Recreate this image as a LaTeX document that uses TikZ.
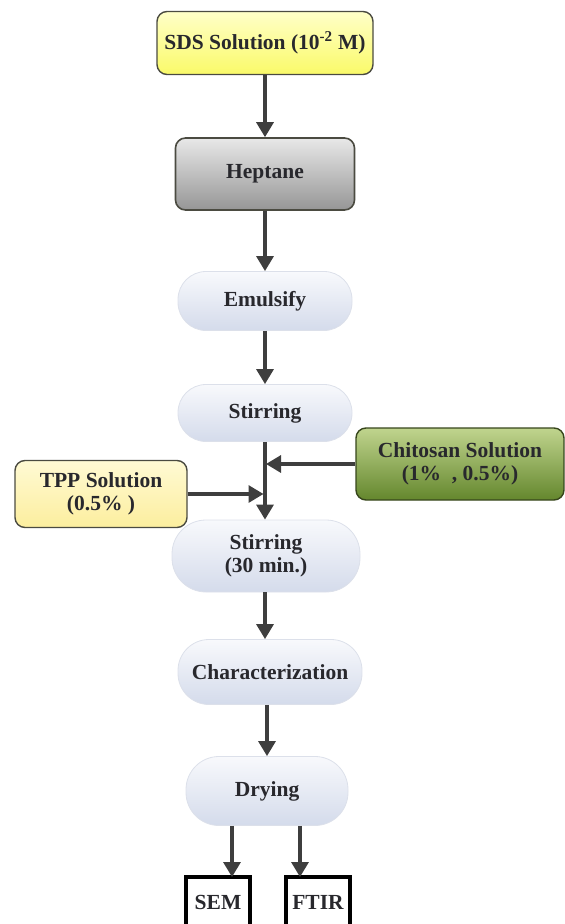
\documentclass[tikz,border=0pt]{standalone}
\usepackage{fontspec}
\setmainfont{Liberation Serif}
\usetikzlibrary{arrows.meta}

\definecolor{inkgray}{RGB}{40,40,45}
\definecolor{linegray}{RGB}{62,62,62}
\definecolor{edgegray}{RGB}{75,75,65}

\tikzset{
  lbl/.style={font=\fontsize{21.5}{23}\selectfont\bfseries, text=inkgray, align=center, inner sep=1pt},
  boxbase/.style={lbl, draw=edgegray, line width=1.4pt, rounded corners=10pt},
  sdsbox/.style={boxbase, top color={rgb,255:red,255;green,255;blue,200}, bottom color={rgb,255:red,250;green,250;blue,105}},
  hepbox/.style={boxbase, line width=1.6pt, top color={rgb,255:red,232;green,232;blue,232}, bottom color={rgb,255:red,150;green,150;blue,150}},
  tppbox/.style={boxbase, top color={rgb,255:red,255;green,250;blue,212}, bottom color={rgb,255:red,252;green,238;blue,158}},
  chibox/.style={boxbase, draw={rgb,255:red,55;green,70;blue,28}, top color={rgb,255:red,192;green,212;blue,142}, bottom color={rgb,255:red,100;green,135;blue,45}},
  pill/.style={lbl, draw={rgb,255:red,220;green,224;blue,234}, line width=0.8pt, top color={rgb,255:red,248;green,249;blue,252}, bottom color={rgb,255:red,212;green,219;blue,235}, rounded corners=28pt},
  outbox/.style={lbl, draw=black, line width=3.2pt, fill=white, minimum width=64pt, minimum height=50pt},
  arr/.style={draw=linegray, line width=3.2pt, -{Triangle[width=17pt,length=15pt]}}
}

\begin{document}
\begin{tikzpicture}[x=1pt, y=-1pt]
  \useasboundingbox (0,0) rectangle (565,924);

  % main column
  \node[sdsbox, minimum width=216pt, minimum height=63pt] (sds) at (265,43) {SDS Solution (10\textsuperscript{-2} M)};
  \node[hepbox, minimum width=179pt, minimum height=72pt] (hep) at (265,174) {Heptane};
  \node[pill, minimum width=174pt, minimum height=59pt] (emu) at (265,301) {Emulsify};
  \node[pill, minimum width=174pt, minimum height=57pt] (stir1) at (265,413) {Stirring};
  \node[pill, minimum width=188pt, minimum height=72pt, rounded corners=34pt] (stir2) at (266,556) {Stirring\\(30 min.)};
  \node[pill, minimum width=184pt, minimum height=65pt, rounded corners=31pt] (char) at (270,672) {Characterization};
  \node[pill, minimum width=162pt, minimum height=69pt, rounded corners=33pt] (dry) at (267,791) {Drying};

  % side inputs
  \node[chibox, minimum width=208pt, minimum height=72pt] (chi) at (460,464) {Chitosan Solution\\(1\%\ \ , 0.5\%)};
  \node[tppbox, minimum width=172pt, minimum height=67pt] (tpp) at (101,494) {TPP Solution\\(0.5\% )};

  % analyses
  \node[outbox] (sem) at (218,902) {SEM};
  \node[outbox] (ftir) at (318,902) {FTIR};
  \coordinate (semIn) at (232,877);
  \coordinate (ftirIn) at (300,877);

  % connectors
  \draw[arr] (sds) -- (hep);
  \draw[arr] (hep) -- (emu);
  \draw[arr] (emu) -- (stir1);
  \draw[arr] (stir1.south) -- (stir1.south |- stir2.north);
  \draw[arr] (chi.west) -- ([xshift=1pt]chi.west -| stir1.south);
  \draw[arr] (tpp.east) -- ([xshift=-1.5pt]tpp.east -| stir1.south);
  \draw[arr] (stir2.south -| stir1.south) -- (stir1.south |- char.north);
  \draw[arr] (char.south -| dry) -- (dry.north);
  \draw[arr] (dry.south -| semIn) -- (semIn);
  \draw[arr] (dry.south -| ftirIn) -- (ftirIn);
\end{tikzpicture}
\end{document}
